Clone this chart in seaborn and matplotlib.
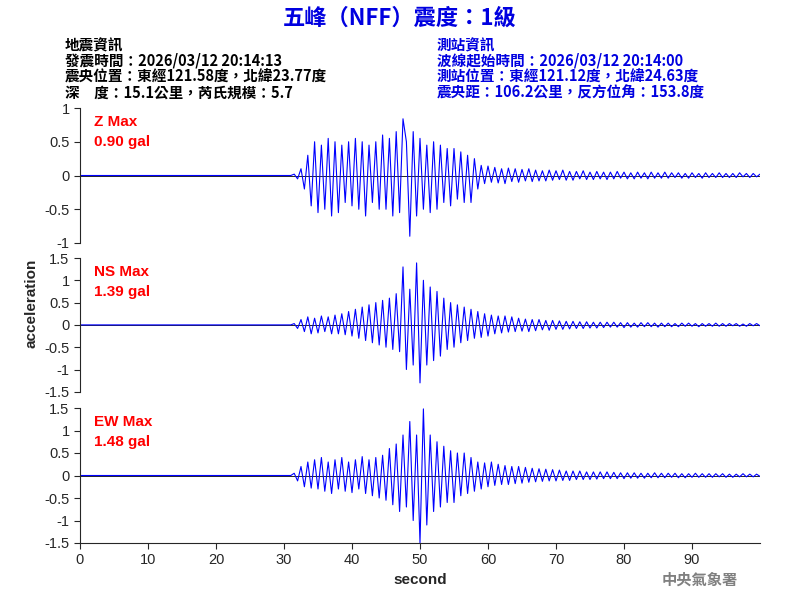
import numpy as np
import pandas as pd
import matplotlib.pyplot as plt
import seaborn as sns

sns.set_style('ticks')
plt.rcParams['font.family'] = ['Liberation Sans', 'Noto Sans CJK TC']

#%% data at 0.5 s steps from 31 s
t0 = 31.0
dt = 0.5
z_vals = [0, 0.02, -0.05, 0.1, -0.2, 0.3, -0.45, 0.5, -0.55, 0.45,
          -0.5, 0.55, -0.6, 0.5, -0.55, 0.45, -0.4, 0.5, -0.45, 0.55,
          -0.5, 0.5, -0.6, 0.45, -0.4, 0.5, -0.5, 0.6, -0.5, 0.55,
          -0.6, 0.65, -0.55, 0.84, 0.5, -0.9, 0.65, -0.6, 0.55, -0.5,
          0.45, -0.55, 0.5, -0.5, 0.45, -0.4, 0.4, -0.45, 0.4, -0.35,
          0.35, -0.4, 0.3, -0.4, 0.25, -0.2, 0.15, -0.12, 0.14, -0.1,
          0.12, -0.11, 0.1, -0.12, 0.11, -0.09, 0.1, -0.1, 0.09, -0.08,
          0.1, -0.09, 0.08, -0.08, 0.07, -0.08, 0.08, -0.07, 0.07, -0.06,
          0.08, -0.07, 0.06, -0.07, 0.06, -0.05, 0.07, -0.06, 0.05, -0.06,
          0.06, -0.05, 0.05, -0.06, 0.05, -0.05, 0.06, -0.04, 0.05, -0.05,
          0.04, -0.05, 0.05, -0.04, 0.04, -0.05, 0.05, -0.04, 0.04, -0.04,
          0.05, -0.04, 0.04, -0.03, 0.04, -0.04, 0.03, -0.04, 0.04, -0.03,
          0.03, -0.04, 0.04, -0.03, 0.03, -0.03, 0.04, -0.03, 0.03, -0.03,
          0.03, -0.03, 0.04, -0.02, 0.03, -0.03, 0.03, -0.02, 0.02]
ns_vals = [0, 0.03, -0.08, 0.12, -0.15, 0.18, -0.2, 0.15, -0.18, 0.2,
           -0.15, 0.18, -0.2, 0.22, -0.2, 0.25, -0.22, 0.3, -0.25, 0.35,
           -0.3, 0.4, -0.35, 0.45, -0.4, 0.5, -0.45, 0.55, -0.5, 0.6,
           -0.55, 0.7, -0.6, 1.3, -1.0, 0.8, -0.9, 1.39, -1.3, 1.0,
           -0.9, 0.85, -0.8, 0.75, -0.7, 0.6, -0.55, 0.5, -0.5, 0.45,
           -0.4, 0.4, -0.35, 0.35, -0.3, 0.3, -0.28, 0.25, -0.25, 0.22,
           -0.2, 0.2, -0.18, 0.2, -0.16, 0.18, -0.15, 0.15, -0.14, 0.13,
           -0.15, 0.12, -0.13, 0.12, -0.11, 0.1, -0.12, 0.1, -0.1, 0.09,
           -0.1, 0.08, -0.09, 0.08, -0.08, 0.07, -0.08, 0.07, -0.07, 0.06,
           -0.07, 0.06, -0.06, 0.06, -0.05, 0.06, -0.05, 0.05, -0.06, 0.05,
           -0.05, 0.04, -0.05, 0.05, -0.04, 0.05, -0.04, 0.04, -0.05, 0.04,
           -0.04, 0.04, -0.04, 0.03, -0.04, 0.04, -0.03, 0.04, -0.03, 0.03,
           -0.04, 0.03, -0.03, 0.03, -0.03, 0.04, -0.03, 0.03, -0.03, 0.03,
           -0.02, 0.03, -0.03, 0.02, -0.03, 0.03, -0.02, 0.03, -0.02]
ew_vals = [0, 0.05, -0.12, 0.2, -0.25, 0.3, -0.28, 0.35, -0.3, 0.4,
           -0.35, 0.3, -0.4, 0.35, -0.3, 0.4, -0.35, 0.3, -0.38, 0.35,
           -0.3, 0.42, -0.4, 0.35, -0.45, 0.4, -0.5, 0.45, -0.55, 0.6,
           -0.65, 0.7, -0.8, 0.9, -0.7, 1.2, -1.0, 0.9, -1.5, 1.48,
           -1.1, 0.9, -0.8, 0.75, -0.7, 0.65, -0.6, 0.55, -0.6, 0.5,
           -0.45, 0.5, -0.4, 0.4, -0.35, 0.3, -0.3, 0.28, -0.25, 0.3,
           -0.22, 0.25, -0.2, 0.22, -0.2, 0.2, -0.18, 0.2, -0.17, 0.18,
           -0.15, 0.16, -0.14, 0.15, -0.13, 0.14, -0.12, 0.13, -0.12, 0.12,
           -0.11, 0.1, -0.11, 0.1, -0.09, 0.1, -0.09, 0.08, -0.09, 0.08,
           -0.08, 0.08, -0.07, 0.08, -0.07, 0.07, -0.07, 0.06, -0.07, 0.06,
           -0.06, 0.06, -0.06, 0.05, -0.06, 0.05, -0.05, 0.06, -0.05, 0.05,
           -0.05, 0.05, -0.04, 0.05, -0.05, 0.04, -0.05, 0.04, -0.04, 0.05,
           -0.04, 0.04, -0.04, 0.04, -0.04, 0.04, -0.03, 0.04, -0.04, 0.03,
           -0.04, 0.03, -0.03, 0.04, -0.03, 0.03, -0.03, 0.03, -0.02]
comp_names = ['Z', 'NS', 'EW']
max_vals = [0.90, 1.39, 1.48]
ylims = [1, 1.5, 1.5]
yticks = [[-1, -0.5, 0, 0.5, 1],
          [-1.5, -1, -0.5, 0, 0.5, 1, 1.5],
          [-1.5, -1, -0.5, 0, 0.5, 1, 1.5]]

cjk = ['Noto Sans CJK TC', 'Liberation Sans']
fig = plt.figure(figsize=(8, 6), dpi=100)
boxes = [[0.1, 0.595, 0.85, 0.225], [0.1, 0.347, 0.85, 0.223], [0.1, 0.095, 0.85, 0.225]]

for i, vals in enumerate([z_vals, ns_vals, ew_vals]):
    ax = fig.add_axes(boxes[i])
    t = np.concatenate([[0.0], t0 + dt * np.arange(len(vals))])
    df = pd.DataFrame({'t': t, 'a': np.concatenate([[0.0], vals])})
    sns.lineplot(data=df, x='t', y='a', ax=ax, color='blue', lw=0.8, estimator=None)
    ax.axhline(0, color='black', lw=0.6, zorder=0)
    ax.set_xlim(0, 100)
    ax.set_ylim(-ylims[i], ylims[i])
    ax.set_yticks(yticks[i])
    ax.set_yticklabels(['%g' % v for v in yticks[i]])
    ax.set_ylabel('')
    ax.set_xlabel('')
    for s in ['top', 'right']:
        ax.spines[s].set_visible(False)
    ax.tick_params(labelsize=10.5, length=4)
    ax.text(0.02, 0.95, '%s Max' % comp_names[i], color='red', fontsize=11,
            fontweight='bold', transform=ax.transAxes, va='top')
    ax.text(0.02, 0.80, '%.2f gal' % max_vals[i], color='red', fontsize=11,
            fontweight='bold', transform=ax.transAxes, va='top')
    if i < 2:
        ax.spines['bottom'].set_visible(False)
        ax.set_xticks([])
    else:
        ax.set_xticks(range(0, 100, 10))
        ax.set_xlabel('second', fontsize=11, fontweight='bold')

fig.text(0.04, 0.495, 'acceleration', rotation=90, ha='center', va='center',
         fontsize=11, fontweight='bold')
fig.text(0.5, 0.97, '五峰（NFF）震度：1級', color='#0000e0', fontsize=16,
         fontweight='bold', ha='center', va='center', family=cjk)
left = ['地震資訊', '發震時間：2026/03/12 20:14:13', '震央位置：東經121.58度，北緯23.77度',
        '深　度：15.1公里，芮氏規模：5.7']
right = ['測站資訊', '波線起始時間：2026/03/12 20:14:00', '測站位置：東經121.12度，北緯24.63度',
         '震央距：106.2公里，反方位角：153.8度']
for k in range(4):
    y = 1 - (45 + 16 * k) / 600
    fig.text(65 / 800, y, left[k], fontsize=10.5, va='center', family=cjk,
             color='black', fontweight='bold')
    fig.text(437 / 800, y, right[k], fontsize=10.5, va='center', family=cjk,
             color='#0000e0', fontweight='bold')
fig.text(700 / 800, 1 - 580 / 600, '中央氣象署', fontsize=11, color='gray',
         ha='center', va='center', family=cjk, fontweight='bold')

fig.savefig('out.png', dpi=100)
